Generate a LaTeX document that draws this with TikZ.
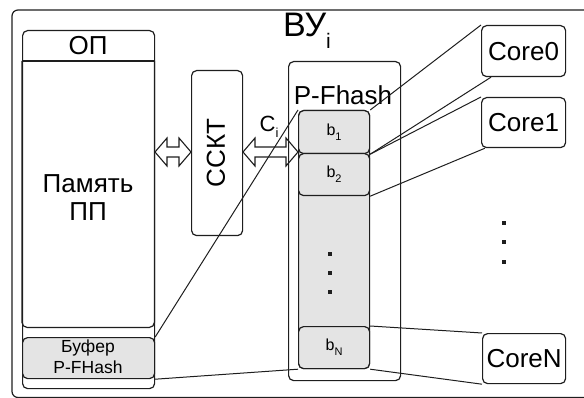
\documentclass[tikz,border=0pt]{standalone}
\usepackage{fontspec}
\setmainfont{Liberation Sans}
\usetikzlibrary{calc}
\definecolor{cellgray}{HTML}{E4E4E4}
\definecolor{ink}{HTML}{1E1E1E}
\newcommand\myarrow[3]{%
  \draw[arrowshape] (#1,#3) -- (#1+12,#3-14) -- (#1+12,#3-5) -- (#2-12,#3-5) -- (#2-12,#3-14) -- (#2,#3)
    -- (#2-12,#3+14) -- (#2-12,#3+5) -- (#1+12,#3+5) -- (#1+12,#3+14) -- cycle;}
\begin{document}
\begin{tikzpicture}[x=1pt,y=-1pt,
  box/.style={draw=ink, rounded corners=5pt, line width=1.2pt, inner sep=0pt, anchor=north west},
  cell/.style={box, fill=cellgray},
  big/.style={font=\fontsize{26}{28}\selectfont, align=center, inner sep=0pt},
  small/.style={font=\fontsize{17.5}{21}\selectfont, align=center, inner sep=0pt},
  blab/.style={font=\fontsize{16}{18}\selectfont},
  link/.style={draw=ink, line width=1pt},
  arrowshape/.style={draw=ink, fill=white, line width=1.1pt, line join=miter},
  dot/.style={rectangle, fill=ink, inner sep=0pt, minimum size=3.2pt}]
\useasboundingbox (0,0) rectangle (584,398);
% outer frame
\begin{scope}
\clip (0,0) rectangle (584,398);
\draw[draw=ink, line width=1.2pt, rounded corners=6pt] (12,10) rectangle (600,397.5);
\end{scope}
\node[font=\fontsize{34}{36}\selectfont, inner sep=0pt] (vu) at (307,31) {ВУ\raisebox{-0.35em}{\fontsize{21}{21}\selectfont i}};
% OP block
\node[box, minimum width=132pt, minimum height=358pt] (op) at (22,30) {};
\draw[draw=ink, line width=1.2pt] (22,61) -- (154,61);
\node[big] (optitle) at (88,46) {ОП};
\node[inner sep=0pt, minimum width=132pt, minimum height=266pt, anchor=north west] (mem) at (22,61) {};
\draw[draw=ink, line width=1.2pt, rounded corners=5pt] (mem.north west) -- (mem.south west) -- (mem.south east) -- (mem.north east);
\node[big] (memtext) at (88,198) {Память\\ПП};
\node[cell, minimum width=132pt, minimum height=41pt] (buf) at (22,337) {};
\node[small] (buftext) at (88,357) {Буфер\\P-FHash};
% SSKT
\node[box, minimum width=51pt, minimum height=165pt] (sskt) at (191,70) {};
\node[big, rotate=90] (ssktext) at (216,153) {ССКТ};
% arrows
\myarrow{155}{191}{152}
\myarrow{243}{298}{152}
\node[font=\fontsize{22}{22}\selectfont, inner sep=0pt] (ci) at (269,127) {C\raisebox{-0.3em}{\fontsize{13}{13}\selectfont i}};
% P-Fhash
\node[box, minimum width=112pt, minimum height=319pt] (pf) at (288,61) {};
\node[big] (pftext) at (343,95) {P-Fhash};
\node[cell, minimum width=71pt, minimum height=258pt] (col) at (298,110) {};
\node[cell, minimum width=71pt, minimum height=43pt] (b1) at (298,110) {};
\node[cell, minimum width=71pt, minimum height=42pt] (b2) at (298,153) {};
\node[cell, minimum width=71pt, minimum height=42pt] (bN) at (298,326) {};
\node[blab] at (b1.center) {b\raisebox{-0.3em}{\fontsize{11}{11}\selectfont 1}};
\node[blab] at (b2.center) {b\raisebox{-0.3em}{\fontsize{11}{11}\selectfont 2}};
\node[blab] at (bN.center) {b\raisebox{-0.3em}{\fontsize{11}{11}\selectfont N}};
\node[dot] (d1) at (330,254) {};
\node[dot] (d2) at (330,273) {};
\node[dot] (d3) at (330,292) {};
% cores
\node[box, minimum width=84pt, minimum height=51pt] (core0) at (481,25) {};
\node[box, minimum width=84pt, minimum height=50pt] (core1) at (481,97) {};
\node[box, minimum width=83pt, minimum height=50pt] (coreN) at (482,333) {};
\node[big] at (core0.center) {Core0};
\node[big] at (core1.center) {Core1};
\node[big] at (coreN.center) {CoreN};
\node[dot] (e1) at (504,223) {};
\node[dot] (e2) at (504,242) {};
\node[dot] (e3) at (504,262) {};
% connectors
\draw[link] (buf.north east) -- (b1.north west);
\draw[link] (buf.south east) -- (bN.south west);
\draw[link] (b1.north east) -- (core0.north west);
\draw[link] (b1.south east) -- ($(core0.south west)+(10,0)$);
\draw[link] (b1.south east) -- (core1.north west);
\draw[link] (b2.south east) -- ($(core1.south west)+(4,0)$);
\draw[link] (bN.north east) -- (coreN.north west);
\draw[link] (bN.south east) -- (coreN.south west);
\end{tikzpicture}
\end{document}
